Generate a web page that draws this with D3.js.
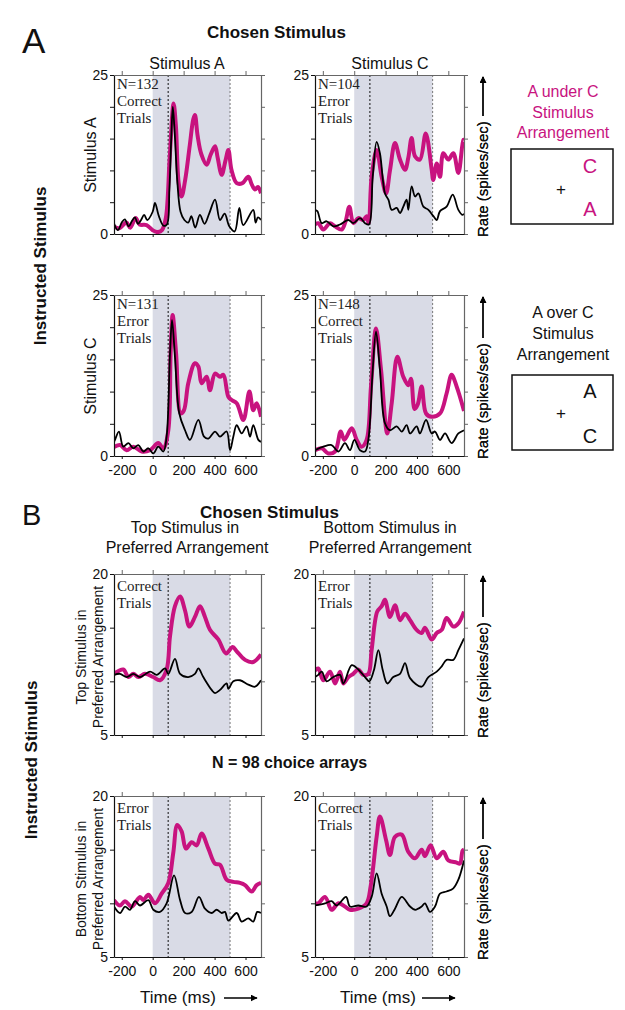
<!DOCTYPE html>
<html>
<head>
<style type="text/css">
    body { margin: 0; background: #fff; }
    svg { font-family: "Liberation Sans", Arial, sans-serif; }
    .tag { font-family: "Liberation Serif", "DejaVu Serif", serif; font-size: 15px; fill: #222; }
</style>
<script src="https://d3js.org/d3.v7.min.js"></script>
</head>
<body>
<svg id="chart" width="625" height="1010"></svg>
<script type="text/javascript">
// axis values
const timeDomain = [-250, 700];
const timeTicks = [-200, 0, 200, 400, 600];
const rateDomainA = [0, 25];
const rateTicksA = [0, 5, 10, 15, 20, 25];
const rateDomainB = [5, 20];
const rateTicksB = [5, 10, 15, 20];
const shadeWindow = [0, 500];

// [time ms, rate spikes/sec]
// panel A, instructed A / chosen A
const aTopLeftPink = [[-250,1.2],[-215,0.9],[-170,1.8],[-145,1.0],[-110,2.5],[-85,1.5],[-40,1.4],[0,0.6],[30,0.3],[60,0.6],[85,2.5],[110,12],[135,20.5],[150,17],[168,8],[187,5.9],[210,8.5],[240,14],[262,18],[273,18.7],[290,15.5],[315,12.5],[349,10.9],[375,12.5],[403,13.8],[420,12],[446,9.3],[470,11.5],[489,13.2],[510,10],[543,8],[580,8],[618,9],[640,7.8],[661,7],[680,7.4],[700,6.4]];
const aTopLeftBlack = [[-250,1.7],[-225,0.6],[-200,1.8],[-180,2.3],[-155,1.2],[-135,2.0],[-115,2.6],[-95,1.6],[-75,2.2],[-55,3.0],[-35,2.2],[0,3.5],[15,4.9],[40,2.8],[70,1.3],[92,1.5],[108,7],[120,15],[130,20],[142,16],[160,8],[180,3.5],[205,2.2],[230,1.8],[250,2.8],[275,1.0],[305,3.0],[335,1.6],[365,3.2],[403,5.4],[435,2.2],[465,3.2],[495,1.2],[530,0.4],[560,4.1],[585,1.4],[650,3.8],[665,1.8],[680,2.6],[700,2.2]];
// instructed A / chosen C
const aTopRightPink = [[-250,1.5],[-229,1.7],[-197,0.7],[-154,1.7],[-122,1.2],[-80,0.7],[-55,2.0],[-31,4.3],[-5,1.7],[26,2.5],[58,2.2],[79,2.8],[92,1.7],[111,9],[143,13.2],[175,9],[203,6.4],[228,10],[260,14.3],[292,11.7],[324,10.1],[345,12],[366,15.1],[388,12.2],[419,11.7],[456,15.8],[494,10.1],[504,8.5],[526,11.1],[547,9],[568,12.7],[600,11.7],[632,12.7],[664,9.6],[696,14.8],[700,14.8]];
const aTopRightBlack = [[-250,3.8],[-235,3.6],[-207,1.7],[-176,2.0],[-133,1.2],[-91,1.5],[-38,2.2],[-6,1.7],[37,2.5],[69,1.7],[94,1.5],[118,9],[143,14.5],[164,12.7],[196,6.4],[218,5.4],[239,3.8],[271,4.1],[292,3.3],[313,4.3],[334,5.4],[345,3.8],[366,7.5],[388,5.9],[409,6.4],[441,4.3],[473,3.8],[505,2.8],[526,2.2],[547,3.6],[589,4.3],[628,6.2],[664,3.8],[691,3],[700,3.2]];
// instructed C / chosen A
const aBottomLeftPink = [[-250,1.4],[-211,1.7],[-168,0.9],[-125,1.45],[-71,0.7],[-17,0.9],[36,2],[69,1.2],[101,4],[116,16],[129,21.9],[151,16],[181,6.6],[202,7.1],[230,11.3],[273,14.4],[295,13.9],[316,11.3],[349,12.3],[370,10.2],[403,12.8],[435,12.3],[457,12.6],[489,9.2],[510,8.7],[543,8.2],[586,5.6],[625,10],[650,7.1],[672,8.2],[700,6.1]];
const aBottomLeftBlack = [[-250,2.2],[-244,2.5],[-218,3.8],[-190,1.45],[-157,2],[-125,1.2],[-93,1.7],[-60,0.7],[-28,1.2],[4,0.4],[36,1.45],[69,0.7],[90,3],[112,16],[125,21.1],[144,15.4],[172,6.6],[209,4],[241,2.5],[295,5.6],[332,3],[360,2.7],[403,3.8],[435,3],[478,3.8],[500,0.9],[521,3],[543,4.8],[575,3.5],[607,4.6],[629,3],[650,4.8],[683,2.5],[700,2.2]];
// instructed C / chosen C
const aBottomRightPink = [[-250,0.9],[-207,1.2],[-165,0.4],[-122,0.7],[-86,3.8],[-63,2.5],[-16,4.3],[16,2.5],[47,1.45],[79,2.5],[107,10.8],[139,19.8],[171,13.4],[211,3.5],[239,8.2],[275,15.4],[313,12.3],[345,11],[362,12],[385,7.3],[405,8],[430,10.8],[458,6.6],[494,6.1],[547,6.6],[589,9.7],[621,12.6],[653,10.8],[674,9.2],[700,7]];
const aBottomRightBlack = [[-250,0.9],[-197,1.45],[-144,1.7],[-101,0.7],[-59,2],[-27,0.9],[1,2.5],[37,0.9],[69,0.7],[90,2.5],[118,13.4],[139,19.3],[164,13.4],[196,5.1],[228,4],[271,4.6],[303,3.8],[334,4.8],[356,3.5],[398,4.6],[419,3.5],[458,5.6],[494,3.5],[515,3.8],[547,2.5],[579,3.5],[621,2],[664,3.5],[700,4]];

// panel B, top preferred / chosen top
const bTopLeftPink = [[-250,10.7],[-190,11.1],[-157,10.4],[-125,10.7],[-93,10.4],[-50,10.7],[4,10.4],[47,10.1],[90,11.1],[112,14.2],[144,17],[177,17.9],[209,16.6],[237,15.1],[273,16],[306,17],[338,16],[370,14.8],[424,13.9],[474,12.6],[517,13.2],[543,12.8],[597,12],[650,11.8],[700,12.5]];
const bTopLeftBlack = [[-250,10.6],[-211,10.7],[-168,10.4],[-125,10.7],[-82,10.4],[-17,10.9],[26,10.6],[80,11.2],[101,10.7],[144,12.1],[177,10.7],[230,10.4],[273,10.7],[295,11.2],[327,10.4],[381,9.2],[403,8.9],[435,9.2],[478,9.8],[489,9.3],[521,10],[564,10.1],[618,9.7],[661,9.5],[700,10.1]];
// top preferred / chosen bottom
const bTopRightPink = [[-250,11.0],[-229,11.2],[-197,10.1],[-154,10.9],[-122,9.8],[-91,10.9],[-69,9.8],[-37,10.4],[-6,10.7],[26,11.1],[58,10.6],[90,10.7],[111,12.9],[147,16.5],[175,17],[196,17.6],[228,16],[260,17.1],[292,15.7],[324,16.3],[356,15.7],[398,14.8],[430,14.5],[451,15],[494,13.9],[526,14.5],[558,14.8],[589,15.9],[632,15.1],[664,15.4],[700,16.5]];
const bTopRightBlack = [[-250,10.4],[-229,10.6],[-207,10.9],[-176,10],[-133,10.4],[-91,10.6],[-69,9.8],[-16,11.5],[26,11.1],[69,10.4],[96,10],[125,11],[154,12.9],[181,11.1],[211,9.8],[249,10.4],[292,10.7],[324,11.7],[356,10.3],[430,9.5],[473,10.4],[526,10.9],[558,11.4],[589,12],[632,12],[664,12.9],[700,14]];
// bottom preferred / chosen top
const bBottomLeftPink = [[-250,10.3],[-211,9.8],[-179,10.2],[-136,9.7],[-82,10.6],[-60,10.3],[-28,10.8],[15,10],[58,10.9],[101,11.9],[133,14.7],[159,17.3],[187,16.7],[215,15.1],[252,15.7],[284,15.4],[316,16.5],[360,15.1],[403,13.7],[435,13.6],[478,12.2],[521,12],[564,11.9],[597,11.7],[640,11.1],[672,11.7],[700,11.9]];
const bBottomLeftBlack = [[-250,9.7],[-211,9.1],[-179,9.7],[-147,9.4],[-114,10.2],[-82,9.8],[-28,10.3],[4,9.4],[47,9.2],[90,10],[138,12.6],[177,10.3],[209,9.1],[252,9.2],[299,10.6],[338,9.5],[381,9.1],[413,9.4],[446,9.1],[467,9.2],[489,8.4],[543,9.1],[575,8.3],[618,8.6],[650,8.3],[676,9.2],[700,9.1]];
// bottom preferred / chosen bottom
const bBottomRightPink = [[-250,10],[-229,10],[-186,10.6],[-144,9.4],[-101,10],[-59,9.7],[-27,9.4],[26,9.5],[79,10],[105,11.6],[143,16.2],[164,18.1],[203,15.9],[228,14.5],[260,16.2],[303,16.4],[345,14.8],[388,14.2],[430,15],[451,14.4],[487,15.4],[526,14.2],[568,14.8],[600,14],[653,13.8],[674,13.7],[691,14.9],[700,15]];
const bBottomRightBlack = [[-250,9.8],[-186,10],[-144,10.2],[-112,9.8],[-52,10.6],[-27,9.7],[26,9.8],[79,9.7],[111,10.6],[143,12.8],[175,10.9],[207,9.7],[228,8.8],[260,9.5],[303,10.6],[356,9.7],[388,9.4],[430,9.7],[451,10],[483,9.2],[515,9.7],[547,10.9],[589,11.1],[632,11.4],[664,12.2],[700,14]];

const pinkColor = '#c8137f';
const svg = d3.select('#chart');
const defs = svg.append('defs');

defs.append('marker')
    .attr('id', 'arrow')
    .attr('viewBox', '0 0 10 10')
    .attr('refX', 9).attr('refY', 5)
    .attr('markerWidth', 7).attr('markerHeight', 7)
    .attr('markerUnits', 'userSpaceOnUse')
    .attr('orient', 'auto')
    .append('path')
    .attr('d', 'M0,0 L10,5 L0,10 z')
    .attr('fill', '#000');

// plot boxes
const cols = [[114, 261], [315, 464]];
const plots = [
    { id: 'a1', col: 0, y0: 75, y1: 234, dom: rateDomainA, ticks: rateTicksA, pink: aTopLeftPink, black: aTopLeftBlack, tag: ['N=132', 'Correct', 'Trials'], tagY: 14, labels: false },
    { id: 'a2', col: 1, y0: 75, y1: 234, dom: rateDomainA, ticks: rateTicksA, pink: aTopRightPink, black: aTopRightBlack, tag: ['N=104', 'Error', 'Trials'], tagY: 14, labels: false },
    { id: 'a3', col: 0, y0: 295, y1: 456, dom: rateDomainA, ticks: rateTicksA, pink: aBottomLeftPink, black: aBottomLeftBlack, tag: ['N=131', 'Error', 'Trials'], tagY: 14, labels: true },
    { id: 'a4', col: 1, y0: 295, y1: 456, dom: rateDomainA, ticks: rateTicksA, pink: aBottomRightPink, black: aBottomRightBlack, tag: ['N=148', 'Correct', 'Trials'], tagY: 14, labels: true },
    { id: 'b1', col: 0, y0: 574, y1: 735, dom: rateDomainB, ticks: rateTicksB, pink: bTopLeftPink, black: bTopLeftBlack, tag: ['Correct', 'Trials'], tagY: 17, labels: false },
    { id: 'b2', col: 1, y0: 574, y1: 735, dom: rateDomainB, ticks: rateTicksB, pink: bTopRightPink, black: bTopRightBlack, tag: ['Error', 'Trials'], tagY: 17, labels: false },
    { id: 'b3', col: 0, y0: 796, y1: 957, dom: rateDomainB, ticks: rateTicksB, pink: bBottomLeftPink, black: bBottomLeftBlack, tag: ['Error', 'Trials'], tagY: 17, labels: true },
    { id: 'b4', col: 1, y0: 796, y1: 957, dom: rateDomainB, ticks: rateTicksB, pink: bBottomRightPink, black: bBottomRightBlack, tag: ['Correct', 'Trials'], tagY: 17, labels: true }
];

function styleAxis(g, color) {
    g.select('.domain').attr('stroke', color).attr('stroke-width', 1.2);
    g.selectAll('.tick line').attr('stroke', color);
    g.selectAll('.tick text').attr('font-size', 14).attr('fill', '#111')
        .attr('font-family', '"Liberation Sans", Arial, sans-serif');
}

plots.forEach(p => {
    const x0 = cols[p.col][0], x1 = cols[p.col][1];
    const x = d3.scaleLinear().domain(timeDomain).range([x0, x1]);
    const y = d3.scaleLinear().domain(p.dom).range([p.y1, p.y0]);
    const g = svg.append('g').attr('class', 'plot');

    defs.append('clipPath').attr('id', 'clip-' + p.id)
        .append('rect').attr('x', x0).attr('y', p.y0)
        .attr('width', x1 - x0).attr('height', p.y1 - p.y0);

    g.append('rect')
        .attr('x', x(shadeWindow[0])).attr('y', p.y0)
        .attr('width', x(shadeWindow[1]) - x(shadeWindow[0]))
        .attr('height', p.y1 - p.y0)
        .attr('fill', '#d9dbe6');

    g.append('line')
        .attr('x1', x(100)).attr('x2', x(100)).attr('y1', p.y0).attr('y2', p.y1)
        .attr('stroke', '#111').attr('stroke-width', 1).attr('stroke-dasharray', '2,2');
    g.append('line')
        .attr('x1', x(shadeWindow[1])).attr('x2', x(shadeWindow[1])).attr('y1', p.y0).attr('y2', p.y1)
        .attr('stroke', '#777').attr('stroke-width', 1).attr('stroke-dasharray', '2,2');

    const line = d3.line()
        .x(d => x(d[0]))
        .y(d => y(d[1]))
        .curve(d3.curveCatmullRom.alpha(0.5));

    g.append('path').datum(p.pink)
        .attr('d', line).attr('fill', 'none')
        .attr('stroke', pinkColor).attr('stroke-width', 4)
        .attr('stroke-linejoin', 'round')
        .attr('clip-path', 'url(#clip-' + p.id + ')');
    g.append('path').datum(p.black)
        .attr('d', line).attr('fill', 'none')
        .attr('stroke', '#000').attr('stroke-width', 1.8)
        .attr('stroke-linejoin', 'round')
        .attr('clip-path', 'url(#clip-' + p.id + ')');

    // tag text
    g.selectAll('text.tag').data(p.tag).enter()
        .append('text').attr('class', 'tag')
        .attr('x', x0 + 3)
        .attr('y', (d, i) => p.y0 + p.tagY + i * 17)
        .text(d => d);

    // axes
    const first = p.ticks[0], last = p.ticks[p.ticks.length - 1];
    const left = g.append('g').attr('transform', 'translate(' + x0 + ',0)')
        .call(d3.axisLeft(y).tickValues(p.ticks).tickSize(4).tickSizeOuter(0).tickPadding(2)
            .tickFormat(d => (d === first || d === last) ? String(d) : ''));
    styleAxis(left, '#111');
    const right = g.append('g').attr('transform', 'translate(' + x1 + ',0)')
        .call(d3.axisRight(y).tickValues(p.ticks).tickSize(4).tickSizeOuter(0).tickFormat(''));
    styleAxis(right, '#666');
    const top = g.append('g').attr('transform', 'translate(0,' + p.y0 + ')')
        .call(d3.axisTop(x).tickValues(timeTicks).tickSize(4).tickSizeOuter(0).tickFormat(''));
    styleAxis(top, '#666');
    const bottom = g.append('g').attr('transform', 'translate(0,' + p.y1 + ')')
        .call(d3.axisBottom(x).tickValues(timeTicks).tickSize(3).tickSizeOuter(0).tickPadding(6)
            .tickFormat(d => p.labels ? String(d) : ''));
    styleAxis(bottom, '#111');

    // rate label with arrow on the right
    const rg = svg.append('g').attr('transform', 'translate(488,' + (p.y1 + 3) + ') rotate(-90)');
    rg.append('text').attr('x', 0).attr('y', 0).attr('font-size', 15).attr('fill', '#111')
        .text('Rate (spikes/sec)');
    const span = p.y1 + 3 - (p.y0 + 2);
    rg.append('line').attr('x1', 121).attr('x2', span).attr('y1', -5).attr('y2', -5)
        .attr('stroke', '#000').attr('stroke-width', 1.3).attr('marker-end', 'url(#arrow)');
});

// titles and labels
function addText(x, y, str, opts) {
    const o = opts || {};
    const t = svg.append('text').attr('x', x).attr('y', y)
        .attr('font-size', o.size || 16)
        .attr('font-weight', o.bold ? 'bold' : 'normal')
        .attr('text-anchor', o.anchor || 'middle')
        .attr('fill', o.color || '#111')
        .text(str);
    if (o.rotate) t.attr('transform', 'rotate(-90,' + x + ',' + y + ')');
    return t;
}

addText(22, 53, 'A', { size: 35, anchor: 'start' });
addText(22, 525, 'B', { size: 29, anchor: 'start' });

addText(207, 38, 'Chosen Stimulus', { size: 17, bold: true, anchor: 'start' });
addText(187, 69, 'Stimulus A');
addText(390, 69, 'Stimulus C');
addText(96, 155, 'Stimulus A', { rotate: true });
addText(96, 376, 'Stimulus C', { rotate: true });
addText(46, 266, 'Instructed Stimulus', { size: 17, bold: true, rotate: true });

addText(200, 518, 'Chosen Stimulus', { size: 17, bold: true, anchor: 'start' });
addText(185, 533, 'Top Stimulus in');
addText(187, 553, 'Preferred Arrangement');
addText(390, 533, 'Bottom Stimulus in');
addText(390, 553, 'Preferred Arrangement');
addText(86, 657, 'Top Stimulus in', { size: 14, rotate: true });
addText(103, 657, 'Preferred Arrangement', { size: 14, rotate: true });
addText(86, 879, 'Bottom Stimulus in', { size: 14, rotate: true });
addText(103, 879, 'Preferred Arrangement', { size: 14, rotate: true });
addText(37, 760, 'Instructed Stimulus', { size: 17, bold: true, rotate: true });
addText(212, 768, 'N = 98 choice arrays', { size: 16, bold: true, anchor: 'start' });

// time labels
[[140, 224, 257], [340, 422, 455]].forEach(t => {
    addText(t[0], 1003, 'Time (ms)', { size: 17, anchor: 'start' });
    svg.append('line').attr('x1', t[1]).attr('x2', t[2]).attr('y1', 998).attr('y2', 998)
        .attr('stroke', '#000').attr('stroke-width', 1.3).attr('marker-end', 'url(#arrow)');
});

// arrangement legends
const legends = [
    { lines: ['A under C', 'Stimulus', 'Arrangement'], baselines: [97, 118, 138], color: pinkColor,
      box: [511, 149, 613, 224], upper: 'C', lower: 'A', ys: [173, 195, 216] },
    { lines: ['A over C', 'Stimulus', 'Arrangement'], baselines: [318, 339, 360], color: '#111',
      box: [512, 375, 613, 450], upper: 'A', lower: 'C', ys: [398, 419, 443] }
];
legends.forEach(l => {
    l.lines.forEach((s, i) => addText(563, l.baselines[i], s, { color: l.color }));
    svg.append('rect').attr('x', l.box[0]).attr('y', l.box[1])
        .attr('width', l.box[2] - l.box[0]).attr('height', l.box[3] - l.box[1])
        .attr('fill', 'none').attr('stroke', '#111').attr('stroke-width', 1.5);
    addText(590, l.ys[0], l.upper, { size: 20, color: l.color });
    addText(561, l.ys[1], '+', { size: 17, color: '#111' });
    addText(590, l.ys[2], l.lower, { size: 20, color: l.color });
});
</script>
</body>
</html>
